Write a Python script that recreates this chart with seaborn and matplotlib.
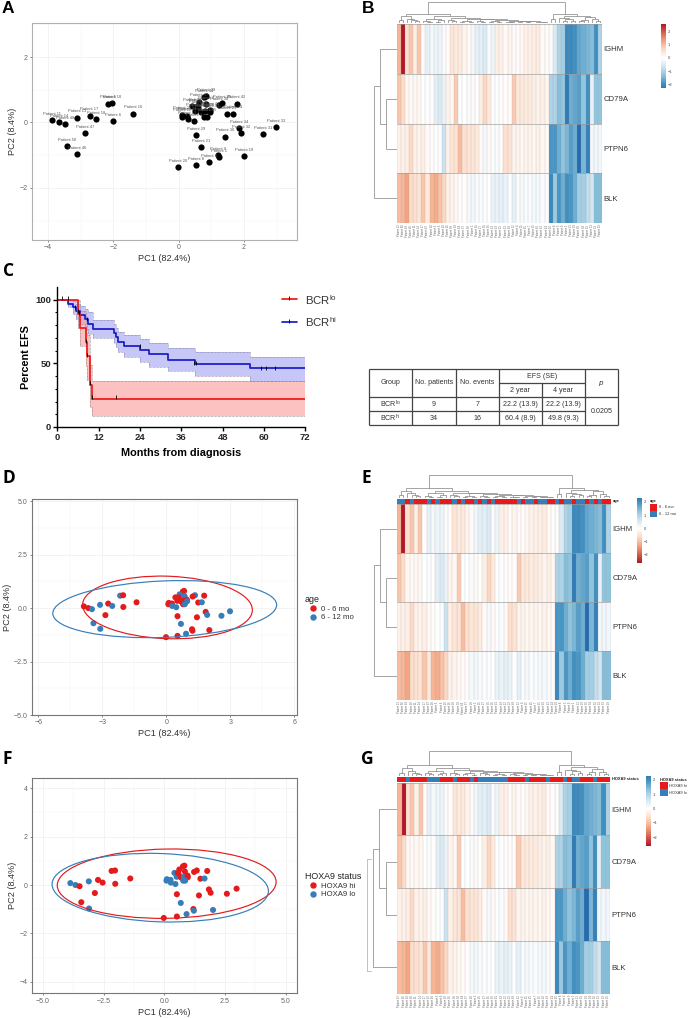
import numpy as np
import pandas as pd
import matplotlib
matplotlib.use("Agg")
import matplotlib.pyplot as plt
from matplotlib.colors import ListedColormap
from matplotlib.patches import Ellipse, Rectangle
import seaborn as sns

W, H = 691, 1018
RED = "#E41A1C"
BLUE = "#377EB8"

# PCA scores
pc1 = [-3.87, -3.66, -3.49, -3.11, -2.73, -2.54, -2.17, -2.03, -2.02, -1.4, -2.86, -3.42, -3.1,
       -0.02, 0.52, 0.92, 1.2, 1.22, 2.01, 0.68, 0.52, 1.43, 1.84, 1.91, 2.58, 2.98,
       1.49, 1.66, 1.77, 1.34, 1.23, 0.83, 0.77, 0.62, 0.42, 0.85, 0.59, 0.51, 0.69, 0.81,
       0.96, 0.97, 0.09, 0.11, 0.26, 0.27, 0.46, 0.78, 0.86, 0.56]
pc2 = [0.08, 0.0, -0.05, 0.15, 0.21, 0.1, 0.58, 0.6, 0.05, 0.27, -0.33, -0.71, -0.97,
       -1.36, -1.3, -1.2, -0.99, -1.06, -1.03, -0.74, -0.38, -0.43, -0.18, -0.32, -0.36, -0.15,
       0.26, 0.27, 0.58, 0.6, 0.54, 0.8, 0.77, 0.64, 0.5, 0.56, 0.45, 0.34, 0.31, 0.34,
       0.39, 0.32, 0.18, 0.24, 0.21, 0.1, 0.04, 0.18, 0.18, 0.5]
patient_no = [11, 14, 48, 13, 17, 18, 5, 10, 6, 16, 47, 50, 46,
              20, 8, 3, 9, 1, 19, 21, 29, 30, 34, 32, 31, 33,
              25, 24, 42, 40, 38, 39, 44, 37, 28, 2, 26, 27, 35, 36,
              41, 43, 22, 23, 49, 12, 4, 15, 45, 7]
age_pts = list("RRBBRBBRRR" "RBBRRBRRRB" "RRRBBBRBRB" "RRRBRBRRRR" "RBRRRBBRBR")
hoxa_pts = list("BBRBRRRRRR" "RRBRRBRBBB" "RRRRRRRBRR" "RRRRBRRBRB" "RRBBBBBBBR")

# BCR groups Kaplan-Meier
lo_t = [0, 6, 6.5, 8.2, 8.7, 9.5, 10, 72]
lo_s = [100, 88.9, 77.8, 66.7, 55.6, 33.3, 22.2, 22.2]
lo_up = [100, 100, 91.5, 82, 72, 49, 36.1, 36.1]
lo_dn = [100, 78, 64, 48, 37, 16, 8.3, 8.3]
hi_t = [0, 3, 4.5, 5.5, 6.5, 8, 9, 10.5, 16.5, 17, 17.5, 19.5, 24, 26.5, 32.2, 40, 56, 72]
hi_s = [100, 97, 94, 91, 88, 85, 81, 77.3, 74, 70.5, 67, 64, 60.4, 57, 53, 49.8, 46, 46]
hi_up = [100, 100, 99, 97, 95, 93, 90, 84, 81, 78, 75, 72, 69, 66, 62, 59, 55, 55]
hi_dn = [100, 94, 89, 85, 81, 77, 73, 70, 66, 63, 59, 55, 51, 47, 44, 40, 36, 36]
cens_lo_t = [1.5, 3, 6.3, 8.2, 8.7, 9.5, 10, 17]
cens_lo_s = [100, 100, 88.9, 66.7, 55.6, 33.3, 22.2, 22.2]
cens_hi_t = [5, 6, 8.5, 24, 39.8, 40.2, 59, 60.7, 63.2]
cens_hi_s = [94, 91, 85, 64, 50, 50, 46, 46, 46]

# Heatmap z scores, columns in dendrogram order
genes = ["IGHM", "CD79A", "PTPN6", "BLK"]
ighm = [1.1, 2.6, 0.55, 0.9, 0.3, 0.9, 0.05, -0.35, -0.15, -0.25, -0.25, -0.1, 0.05, 0.45, 0.35, 0.4, 0.2,
        0.1, -0.2, -0.35, -0.4, -0.5, -0.1, -0.25, 0.3, 0.25, 0.1, 0.2, 0.1, 0.05, 0.15, 0.25, 0.25, 0.3,
        0.35, 0.1, 0.05, -0.1, -0.5, -1.0, -1.1, -2.1, -2.1, -2.0, -1.7, -1.6, -1.5, -1.4, -2.0, -1.0]
cd79a = [0.9, 0.6, 0.15, 0.1, 0.15, 0.15, -0.02, -0.05, 0.05, -0.4, -0.5, -0.3, 0.2, 0.15, 0.85, -0.05, 0.0,
         -0.1, 0.1, 0.0, 0.3, 0.7, 0.35, -0.05, -0.05, 0.05, 0.05, 0.05, 0.85, 0.4, 0.4, 0.35, 0.35, 0.3,
         0.2, 0.3, 0.15, -1.0, -1.0, -1.4, -1.3, -2.3, -1.6, -1.7, -1.8, -1.3, -2.0, -0.35, -1.3, -1.3]
ptpn6 = [0.25, 0.25, 0.3, 0.65, 0.25, 0.2, 0.3, 0.1, 0.05, 0.0, -0.05, -0.7, 0.25, 0.45, 0.5, 1.0, 0.55,
         0.45, 0.45, 0.35, 0.1, -0.15, 0.1, -0.05, -0.1, 0.1, 0.55, 0.5, 0.2, 0.2, 0.15, 0.2, 0.2, 0.15,
         0.25, 0.15, 0.1, -1.9, -1.9, -1.6, -1.3, -1.5, -1.8, -1.6, -2.5, -1.5, -2.2, -0.2, -0.2, -0.2]
blk = [1.0, 1.1, 1.3, 0.6, 0.55, 0.45, 0.9, 0.4, 1.1, 1.2, 0.95, 0.7, 0.25, 0.2, 0.15, 0.05, 0.05,
       -0.15, -0.2, -0.1, -0.1, -0.05, 0.0, -0.3, -0.3, -0.35, -0.3, -0.05, -0.35, -0.1, -0.15, -0.1, -0.1,
       -0.15, -0.15, -0.1, -0.1, -2.1, -1.2, -1.9, -1.6, -2.0, -1.9, -1.6, -1.1, -1.1, -0.8, -0.6, -1.4, -1.4]
col_patients = [13, 50, 48, 46, 11, 14, 17, 47, 18, 5, 6, 10, 16, 38, 39, 44, 37, 28, 2, 26, 27, 35, 36, 41,
                43, 22, 23, 49, 12, 4, 15, 45, 7, 25, 40, 42, 24, 20, 8, 3, 9, 1, 21, 29, 30, 34, 32, 31, 33, 19]
age_cols = list("BBRBRRRBRB" "RRRBRBRRBR" "BRBRRRRRBR" "BBRBBRRBRB" "BRBBRBRBRR")
hoxa_cols = list("RRBRRRRBBB" "RRRBRRRBRB" "BBBBBBRRRR" "BRRRRBRRRB" "RBBRRRBRRR")

# Dendrograms: (height, left, right), 0 is a leaf
L = 0
tree_a = (.33, (.14, L, L), (.22, L, (.15, L, (.1, L, L))))
tree_b = (.22, (.12, L, (.08, L, L)), (.14, (.08, L, L), L))
tree_c = (.25, (.14, L, (.1, L, L)), (.22, (.12, (.08, L, L), (.06, L, L)),
          (.18, (.12, L, (.08, L, L)), (.16, (.1, (.06, L, L), (.07, L, L)),
          (.13, (.08, L, (.05, L, L)), (.1, (.06, L, L), (.09, (.05, L, L), (.07, (.04, L, L), (.05, L, L)))))))))
tree_right = (.45, (.18, L, L), (.36, (.25, L, (.2, (.1, L, L), (.13, L, L))),
              (.3, (.16, (.1, L, L), L), (.18, L, (.1, L, L)))))
col_tree = (1.0, (.45, tree_a, (.32, tree_b, tree_c)), tree_right)
row_tree = (1.0, (.75, L, (.485, L, L)), L)

# Table
tbl_xs = [369, 412.3, 455.7, 498.7, 541.7, 584.7, 618.3]
tbl_ys = [369, 383, 397.3, 411.3, 425.3]


sns.set_theme(style="white")
plt.rcParams["font.family"] = ["Liberation Sans", "DejaVu Sans"]
plt.rcParams["mathtext.default"] = "regular"
fig = plt.figure(figsize=(W / 100, H / 100), dpi=100, facecolor="white")

ramp = ["#2166ac", "#4393c3", "#92c5de", "#d1e5f0", "#ffffff", "#fddbc7", "#f4a582", "#d6604d", "#b2182b"]
heat_up = sns.blend_palette(ramp, n_colors=256, as_cmap=True)
heat_down = sns.blend_palette(ramp[::-1], n_colors=256, as_cmap=True)


def px_axes(x0, y0, x1, y1):
    return fig.add_axes([x0 / W, 1 - y1 / H, (x1 - x0) / W, (y1 - y0) / H])


def draw_tree(ax, node, next_leaf, horizontal=False):
    # returns position and height of the node
    if node == 0:
        pos = next_leaf[0] + 0.5
        next_leaf[0] += 1
        return pos, 0
    h, left, right = node
    p1, h1 = draw_tree(ax, left, next_leaf, horizontal)
    p2, h2 = draw_tree(ax, right, next_leaf, horizontal)
    xs = [p1, p1, p2, p2]
    ys = [h1, h, h, h2]
    if horizontal:
        ax.plot(ys, xs, color="#8c8c8c", lw=0.55, solid_joinstyle="miter")
    else:
        ax.plot(xs, ys, color="#8c8c8c", lw=0.55, solid_joinstyle="miter")
    return (p1 + p2) / 2, h


def style_pca(ax, xlim, ylim, xmajor, ymajor, xminor, yminor, frame):
    ax.set_xlim(xlim)
    ax.set_ylim(ylim)
    ax.set_xticks(xmajor)
    ax.set_yticks(ymajor)
    ax.set_xticks(xminor, minor=True)
    ax.set_yticks(yminor, minor=True)
    ax.grid(True, which="major", color="#ececec", lw=0.45)
    ax.grid(True, which="minor", color="#f3f3f3", lw=0.3)
    ax.set_axisbelow(True)
    ax.tick_params(which="major", length=1.6, width=0.5, color="#555555", labelcolor="#666666",
                   labelsize=5, pad=1.5, left=True, bottom=True)
    ax.tick_params(which="minor", length=0)
    ax.set_xlabel("PC1 (82.4%)", fontsize=6.6, color="#333333", labelpad=2.2)
    ax.set_ylabel("PC2 (8.4%)", fontsize=6.6, color="#333333", labelpad=1.5)
    for s in ax.spines.values():
        s.set_visible(True)
        s.set_color(frame)
        s.set_linewidth(0.8)


def pca_panel(box, groups, names, title, xlim, ylim, xmajor, ymajor, xminor, yminor, ellipses, leg_xy):
    ax = px_axes(*box)
    df = pd.DataFrame({"pc1": pc1, "pc2": pc2, title: [names[g] for g in groups]})
    sns.scatterplot(data=df, x="pc1", y="pc2", hue=title, hue_order=[names["R"], names["B"]],
                    palette=[RED, BLUE], s=19, linewidth=0, alpha=1, ax=ax, zorder=3)
    for (cx, cy, a, b, ang, col) in ellipses:
        ax.add_patch(Ellipse((cx, cy), 2 * a, 2 * b, angle=ang, fill=False, edgecolor=col, lw=0.85, zorder=4))
    style_pca(ax, xlim, ylim, xmajor, ymajor, xminor, yminor, "#777777")
    leg = ax.legend(title=title, loc="upper left", bbox_to_anchor=(leg_xy[0] / W, 1 - leg_xy[1] / H),
                    bbox_transform=fig.transFigure, frameon=False, fontsize=5.6, title_fontsize=6.4,
                    labelspacing=0.15, handletextpad=0.05, borderpad=0, borderaxespad=0,
                    labelcolor="#333333")
    leg._legend_box.align = "left"
    leg.get_title().set_color("#222222")
    for h in leg.legend_handles:
        h.set_markersize(4.6)
    return ax


# Panel A
ax_a = px_axes(32, 23, 297, 240)
sns.scatterplot(x=pc1, y=pc2, color="black", s=20, linewidth=0, ax=ax_a, zorder=3)
for x, y, n in zip(pc1, pc2, patient_no):
    ax_a.annotate(f"Patient {n}", (x, y), xytext=(0, 3), textcoords="offset points", ha="center",
                  va="bottom", fontsize=2.9, color="#555555", zorder=4)
style_pca(ax_a, (-4.49, 3.62), (-3.59, 3.04), [-4, -2, 0, 2], [-2, 0, 2], [-3, -1, 1, 3],
          [-3, -1, 1, 3], "#b0b0b0")

# Panel D
pca_panel((32, 499, 297, 715), age_pts, {"R": "0 - 6 mo", "B": "6 - 12 mo"}, "age",
          (-6.3, 6.12), (-5.0, 5.1), [-6, -3, 0, 3, 6], [-5, -2.5, 0, 2.5, 5],
          [-4.5, -1.5, 1.5, 4.5], [-3.75, -1.25, 1.25, 3.75],
          [(0.05, 0.03, 3.98, 1.46, -2, RED), (-0.08, -0.05, 5.25, 1.32, 2.3, BLUE)], (305, 595))

# Panel F
pca_panel((32, 777.7, 297, 993.3), hoxa_pts, {"R": "HOXA9 hi", "B": "HOXA9 lo"}, "HOXA9 status",
          (-5.45, 5.47), (-4.47, 4.43), [-5, -2.5, 0, 2.5, 5], [-4, -2, 0, 2, 4],
          [-3.75, -1.25, 1.25, 3.75], [-3, -1, 1, 3],
          [(0.1, 0.055, 4.51, 1.43, 1, RED), (-0.165, -0.11, 4.46, 1.41, -2, BLUE)], (305, 872))

# Panel C
ax_c = px_axes(57.3, 287, 305.3, 427)
ax_c.fill_between(hi_t, hi_dn, hi_up, step="post", color="#b9b9f5", alpha=0.8, lw=0)
ax_c.fill_between(lo_t, lo_dn, lo_up, step="post", color="#fb9a9a", alpha=0.6, lw=0)
for t, band, col in [(hi_t, hi_up, "#777799"), (hi_t, hi_dn, "#777799"), (lo_t, lo_up, "#887777"), (lo_t, lo_dn, "#887777")]:
    ax_c.step(t, band, where="post", color=col, lw=0.5, ls=(0, (1, 1)))
km = pd.concat([pd.DataFrame({"t": hi_t, "s": hi_s, "g": "hi"}), pd.DataFrame({"t": lo_t, "s": lo_s, "g": "lo"})])
sns.lineplot(data=km, x="t", y="s", hue="g", hue_order=["hi", "lo"], palette=["#1a1ac8", "#f01818"],
             drawstyle="steps-post", errorbar=None, estimator=None, sort=False, lw=1.25, legend=False, ax=ax_c)
ax_c.plot(cens_hi_t, cens_hi_s, "|", color="black", ms=3, mew=0.6, zorder=5)
ax_c.plot(cens_lo_t, [v + 1 for v in cens_lo_s], "|", color="black", ms=3, mew=0.6, zorder=5)
ax_c.set_xlim(0, 72)
ax_c.set_ylim(0, 110)
ax_c.set_xticks(range(0, 73, 12))
ax_c.set_yticks([0, 50, 100])
ax_c.set_yticks(range(0, 101, 10), minor=True)
ax_c.tick_params(which="major", length=3, width=1, color="black", labelsize=6.8, pad=1.5, left=True, bottom=True)
ax_c.tick_params(which="minor", axis="y", length=1.8, width=0.8, color="black", left=True)
for lab in ax_c.get_xticklabels() + ax_c.get_yticklabels():
    lab.set_fontweight("bold")
ax_c.set_xlabel("Months from diagnosis", fontsize=7.8, fontweight="bold", labelpad=4.5, color="black")
ax_c.set_ylabel("Percent EFS", fontsize=7.8, fontweight="bold", labelpad=3, color="black")
for s in ["top", "right"]:
    ax_c.spines[s].set_visible(False)
for s in ["left", "bottom"]:
    ax_c.spines[s].set_color("black")
    ax_c.spines[s].set_linewidth(1)

# overlay covering the whole figure in pixel coordinates, for the C legend, the table and the letters
ov = fig.add_axes([0, 0, 1, 1], facecolor="none", zorder=10)
ov.set_xlim(0, W)
ov.set_ylim(H, 0)
ov.axis("off")
for y, col, lab in [(299.2, "#f01818", "BCR$^{lo}$"), (321.5, "#1a1ac8", "BCR$^{hi}$")]:
    ov.plot([282, 297], [y, y], color=col, lw=1.25)
    ov.plot([289.5], [y - 0.8], "|", color="black", ms=3, mew=0.6)
    ov.text(305.5, y + 0.5, lab, fontsize=8.2, color="#333333", va="center", ha="left")

# Table
xs, ys = tbl_xs, tbl_ys
tc = "#444444"
ov.hlines([ys[0], ys[2], ys[4]], xs[0], xs[-1], color=tc, lw=0.9)
ov.hlines(ys[3], xs[0], xs[5], color=tc, lw=0.9)
ov.hlines(ys[1], xs[3], xs[5], color=tc, lw=0.9)
ov.vlines([xs[0], xs[1], xs[2], xs[3], xs[5], xs[6]], ys[0], ys[4], color=tc, lw=0.9)
ov.vlines(xs[4], ys[1], ys[4], color=tc, lw=0.9)
tk = dict(fontsize=5.1, color="#333333", ha="center", va="center")
ov.text((xs[0] + xs[1]) / 2, ys[1], "Group", **tk)
ov.text((xs[1] + xs[2]) / 2, ys[1], "No. patients", **tk)
ov.text((xs[2] + xs[3]) / 2, ys[1], "No. events", **tk)
ov.text((xs[3] + xs[5]) / 2, (ys[0] + ys[1]) / 2, "EFS (SE)", **tk)
ov.text((xs[3] + xs[4]) / 2, (ys[1] + ys[2]) / 2, "2 year", **tk)
ov.text((xs[4] + xs[5]) / 2, (ys[1] + ys[2]) / 2, "4 year", **tk)
ov.text((xs[5] + xs[6]) / 2, ys[1], "$\\mathit{p}$", **tk)
ov.text((xs[5] + xs[6]) / 2, ys[3], "0.0205", **tk)
table_rows = [["BCR$^{lo}$", "9", "7", "22.2 (13.9)", "22.2 (13.9)"],
              ["BCR$^{hi}$", "34", "16", "60.4 (8.9)", "49.8 (9.3)"]]
for r, row in enumerate(table_rows):
    for c, val in enumerate(row):
        ov.text((xs[c] + xs[c + 1]) / 2, (ys[2 + r] + ys[3 + r]) / 2, val, **tk)

# Panel letters
for lab, x, y, fam in [("A", 2, 13, "Liberation Sans"), ("B", 361.5, 13, "Liberation Sans"), ("C", 3, 276, "Open Sans"),
                       ("D", 3, 483, "Open Sans"), ("E", 361.5, 483, "Open Sans"), ("F", 3, 764, "Open Sans"),
                       ("G", 361.5, 764, "Open Sans")]:
    ov.text(x, y, lab, fontsize=12.5, fontweight="bold", family=fam, color="black", ha="left", va="baseline")


def heat_panel(box, sign, cmap, dend_top, row_left, cbar_box, cbar_lim, anno=None, anno_box=None,
               anno_name=None, leg=None, gene_size=5.6):
    x0, y0, x1, y1 = box
    z = pd.DataFrame([ighm, cd79a, ptpn6, blk], index=genes,
                     columns=[f"Patient {n}" for n in col_patients]) * sign
    ax = px_axes(x0, y0, x1, y1)
    cax = px_axes(*cbar_box)
    sns.heatmap(z, cmap=cmap, vmin=-2.6, vmax=2.6, linewidths=0, ax=ax, cbar_ax=cax,
                xticklabels=True, yticklabels=True)
    # thin cell borders, drawn apart because mesh edges come out a full pixel wide
    ax.vlines(range(0, 51), 0, 4, color="#9a9a9a", lw=0.22, alpha=0.7)
    ax.hlines(range(0, 5), 0, 50, color="#9a9a9a", lw=0.5, alpha=0.9)
    ax.yaxis.tick_right()
    ax.tick_params(axis="y", length=0, labelsize=gene_size, labelcolor="#333333", pad=1.2, rotation=0)
    ax.tick_params(axis="x", length=0, labelsize=1.9, labelcolor="#666666", pad=1, rotation=90, bottom=False)
    ax.set_xlabel("")
    ax.set_ylabel("")
    cax.set_ylim(*cbar_lim)
    cax.set_yticks([-2, -1, 0, 1, 2])
    cax.tick_params(length=0, labelsize=3, labelcolor="#444444", pad=1.5, right=False)
    for s in cax.spines.values():
        s.set_visible(False)

    top = anno_box[1] if anno_box else y0
    dc = px_axes(x0, dend_top, x1, top - 0.6)
    draw_tree(dc, col_tree, [0])
    dc.set_xlim(0, 50)
    dc.set_ylim(0, 1)
    dc.axis("off")

    dr = px_axes(row_left, y0, x0, y1)
    draw_tree(dr, row_tree, [0], horizontal=True)
    dr.set_xlim(1, 0)
    dr.set_ylim(4, 0)
    dr.axis("off")

    if anno:
        an = px_axes(*anno_box)
        sns.heatmap(pd.DataFrame([[1 if a == "R" else 0 for a in anno]]), cmap=ListedColormap([BLUE, RED]),
                    vmin=0, vmax=1, cbar=False, xticklabels=False, yticklabels=False, ax=an)
        an.set_xlabel("")
        an.set_ylabel("")
        ov.text(x1 + 2, (anno_box[1] + anno_box[3]) / 2, anno_name, fontsize=2.9, fontweight="bold",
                color="#222222", ha="left", va="center")
    if leg:
        lx, ly, lw_, lh, names = leg
        ov.text(lx, ly - 0.6, anno_name, fontsize=2.9, fontweight="bold", color="#222222", ha="left", va="bottom")
        for i, (nm, col) in enumerate(zip(names, [RED, BLUE])):
            ov.add_patch(Rectangle((lx, ly + i * lh), lw_, lh, facecolor=col, edgecolor="none"))
            ov.text(lx + lw_ + 1.3, ly + (i + 0.5) * lh, nm, fontsize=2.9, color="#333333", ha="left", va="center")
    return ax


heat_panel((396.7, 24, 602, 223.3), 1, heat_up, 1.7, 374, (661, 24, 665.7, 88), (-2.3, 2.6))
heat_panel((396.7, 504.3, 610.7, 700), -1, heat_down, 475, 374.3, (637, 498, 641.7, 562.7), (-2.6, 2.3),
           age_cols, (396.7, 499, 610.7, 503.7), "age", (650, 503.7, 7.3, 6.8, ["0 - 6 mo", "6 - 12 mo"]))
heat_panel((397.3, 782.7, 610, 993.7), -1, heat_down, 751, 373.3, (645.7, 776, 650.7, 845.7), (-2.6, 2.28),
           hoxa_cols, (397.3, 777, 610, 782), "HOXA9 status", (660, 782.3, 7.7, 7, ["HOXA9 hi", "HOXA9 lo"]))

# stray outer bracket left of the G row dendrogram
ov.plot([371, 366.7, 366.7, 371], [859, 859, 971, 971], color="#b0b0b0", lw=0.55)

fig.savefig("out.png", dpi=100, facecolor="white")
